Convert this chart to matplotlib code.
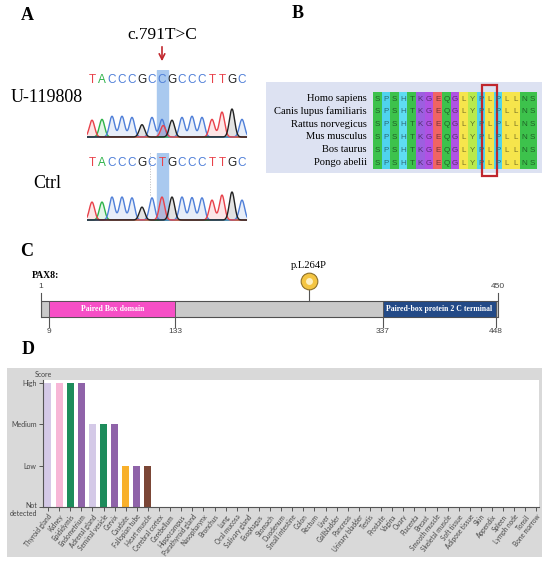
import numpy as np
import matplotlib
matplotlib.use("Agg")
import matplotlib.pyplot as plt
from matplotlib.patches import Rectangle
from matplotlib.transforms import ScaledTranslation

W, H = 550, 565

# panel A: Sanger traces (base calls + peak heights)
seq_mut = "TACCCGCCGCCCTTGC"
seq_ctrl = "TACCCGCTGCCCTTGC"
peaks_mut = [0.60, 0.63, 0.74, 0.74, 0.70, 0.44, 0.70, 0.63, 0.60, 0.70, 0.74, 0.70, 0.63, 0.89, 1.00, 0.63]
peaks_ctrl = [0.64, 0.64, 0.82, 0.82, 0.79, 0.46, 0.79, 0.82, 0.82, 0.82, 0.80, 0.79, 0.71, 0.89, 1.00, 0.71]
het_base, het_index, het_height = "T", 7, 0.41
variant_index = 7
variant_label = "c.791T>C"
sample_names = ["U-119808", "Ctrl"]

# panel B: conservation
species = ["Homo sapiens", "Canis lupus familiaris", "Rattus norvegicus",
           "Mus musculus", "Bos taurus", "Pongo abelii"]
motif = "SPSHTKGEQGLYPLPLLNS"
boxed_col = 13

# panel C: protein domains
protein = "PAX8:"
protein_len = 450
domain_names = ["Paired Box domain", "Paired-box protein 2 C terminal"]
domain_start = [9, 337]
domain_end = [133, 448]
variant_pos = 264
protein_variant = "p.L264P"

# panel D: tissue expression score
tissues = ["Thyroid gland", "Kidney", "Epididymis", "Endometrium", "Adrenal gland",
           "Seminal vesicle", "Cervix", "Caudate", "Fallopian tube", "Heart muscle",
           "Cerebral cortex", "Cerebellum", "Hippocampus", "Parathyroid gland",
           "Nasopharynx", "Bronchus", "Lung", "Oral mucosa", "Salivary gland",
           "Esophagus", "Stomach", "Duodenum", "Small intestine", "Colon", "Rectum",
           "Liver", "Gallbladder", "Pancreas", "Urinary bladder", "Testis", "Prostate",
           "Vagina", "Ovary", "Placenta", "Breast", "Smooth muscle", "Skeletal muscle",
           "Soft tissue", "Adipose tissue", "Skin", "Appendix", "Spleen", "Lymph node",
           "Tonsil", "Bone marrow"]
scores = [3, 3, 3, 3, 2, 2, 2, 1, 1, 1,
          0, 0, 0, 0, 0, 0, 0, 0, 0, 0,
          0, 0, 0, 0, 0, 0, 0, 0, 0, 0,
          0, 0, 0, 0, 0, 0, 0, 0, 0, 0,
          0, 0, 0, 0, 0]
score_labels = ["Not\ndetected", "Low", "Medium", "High"]

# styles
base_colors = {"A": "#2fb34a", "C": "#4f7fd8", "G": "#222222", "T": "#e8414a"}
aa_colors = {"S": "#3dc24c", "T": "#3dc24c", "N": "#3dc24c", "Q": "#3dc24c",
             "P": "#4fd3ee", "H": "#5fdcf2", "K": "#9d5fe0", "G": "#b052e4",
             "E": "#f06464", "L": "#f6e54c", "Y": "#b9ea4c"}
domain_colors = ["#f64fc6", "#234a87"]
group_colors = {"endocrine": "#d4c9e7", "kidney": "#f7b7d7", "male": "#1d8c5b",
                "female": "#8f63a9", "brain": "#f8b02b", "muscle": "#7b4636"}
tissue_group = {"Thyroid gland": "endocrine", "Adrenal gland": "endocrine",
                "Kidney": "kidney", "Epididymis": "male", "Seminal vesicle": "male",
                "Endometrium": "female", "Cervix": "female", "Fallopian tube": "female",
                "Caudate": "brain", "Heart muscle": "muscle"}

SERIF = "Liberation Serif"
SANS = "Liberation Sans"

fig = plt.figure(figsize=(W / 100, H / 100), dpi=100)


def px_axes(x0, y0, x1, y1, **kw):
    return fig.add_axes([x0 / W, 1 - y1 / H, (x1 - x0) / W, (y1 - y0) / H], **kw)


canvas = px_axes(0, 0, W, H)
canvas.set_xlim(0, W)
canvas.set_ylim(H, 0)
canvas.axis("off")

for lab, (x, y) in zip("ABCD", [(27, 16), (298, 14), (27, 252), (28, 350)]):
    canvas.text(x, y, lab, fontsize=13, fontweight="bold", family=SERIF,
                ha="center", va="center")

# ---------------- A ----------------
PX = 28.0  # pixels per unit peak height


def draw_trace(ax, seq, heights, extra=None):
    x = np.linspace(-0.5, len(seq) - 0.5, 1200)
    sig = 0.26
    for b in "ACTG":
        y = np.zeros_like(x)
        for i, (ch, h) in enumerate(zip(seq, heights)):
            if ch == b:
                y += h * np.exp(-(x - i) ** 2 / (2 * sig ** 2))
        if extra and extra[0] == b:
            y += extra[2] * np.exp(-(x - extra[1] - 0.12) ** 2 / (2 * sig ** 2))
        ax.fill_between(x, 0, y, color=base_colors[b], alpha=0.13, lw=0, zorder=2)
        ax.plot(x, y, color=base_colors[b], lw=1.0, zorder=3)
    for i, ch in enumerate(seq):
        ax.text(i, 57 / PX, ch, color=base_colors[ch], fontsize=8.5, family=SANS,
                ha="center", va="center")
    ax.axvspan(variant_index - 0.55, variant_index + 0.55, color="#a9c9ef", zorder=0)
    ax.set_xlim(-0.5, len(seq) - 0.5)
    ax.set_ylim(-1 / PX, 67 / PX)
    ax.axis("off")


ax_mut = px_axes(87, 70, 247, 138)
draw_trace(ax_mut, seq_mut, peaks_mut, (het_base, het_index, het_height))
ax_mut.annotate("", xy=(variant_index, (137 - 64) / PX), xytext=(variant_index, (137 - 44) / PX),
                arrowprops=dict(arrowstyle="->", color="#c1272d", lw=1.2),
                annotation_clip=False)
ax_mut.text(variant_index + 0.05, (137 - 35) / PX, variant_label, fontsize=12.5,
            family=SERIF, ha="center", va="center")

ax_ctrl = px_axes(87, 153, 247, 221)
draw_trace(ax_ctrl, seq_ctrl, peaks_ctrl)
ax_ctrl.plot([5.75, 5.75], [25 / PX, 68 / PX], color="#bbbbbb", lw=0.7, ls=":", zorder=1)

canvas.text(47, 97, sample_names[0], fontsize=13, family=SERIF, ha="center", va="center")
canvas.text(47, 183, sample_names[1], fontsize=13, family=SERIF, ha="center", va="center")

# ---------------- B ----------------
canvas.add_patch(Rectangle((266, 82), 276, 91, color="#dde2f2", lw=0))
ax_b = px_axes(373, 92, 537, 169)
rgb = np.array([[matplotlib.colors.to_rgb(aa_colors[a]) for a in motif] for _ in species])
ax_b.imshow(rgb, aspect="auto", interpolation="nearest",
            extent=(-0.5, len(motif) - 0.5, len(species) - 0.5, -0.5))
for r, name in enumerate(species):
    ax_b.text(-1.2, r, name, fontsize=7.6, family=SERIF, ha="right", va="center")
    for c, a in enumerate(motif):
        dark = tuple(v * 0.5 for v in matplotlib.colors.to_rgb(aa_colors[a]))
        ax_b.text(c, r + 0.05, a, fontsize=5.8, family=SANS, color=dark,
                  ha="center", va="center")
ax_b.add_patch(Rectangle((boxed_col - 0.85, -1.05), 1.7, len(species) + 1.1, fill=False,
                         ec="#c0262d", lw=1.6, clip_on=False))
ax_b.set_xlim(-0.5, len(motif) - 0.5)
ax_b.set_ylim(len(species) - 0.5, -0.5)
ax_b.axis("off")

# ---------------- C ----------------
U = 16.0  # pixels per unit bar height
ax_c = px_axes(41, 250, 498, 340)
ax_c.set_xlim(1, protein_len)
ax_c.set_ylim(-(340 - 317) / U, (317 - 250) / U)
ax_c.axis("off")
ax_c.add_patch(Rectangle((1, 0), protein_len - 1, 1, fc="#c9c9c9", ec="#505050", lw=0.8))
for name, s, e, col in zip(domain_names, domain_start, domain_end, domain_colors):
    ax_c.add_patch(Rectangle((s, 0), e - s, 1, fc=col, ec="#505050", lw=0.6))
    ax_c.text((s + e) / 2, 0.5, name, color="white", fontsize=5.6, fontweight="bold",
              family=SERIF, ha="center", va="center")
for p in [1, protein_len]:
    ax_c.plot([p, p], [0, 1.5], color="#555555", lw=0.8, clip_on=False)
    ax_c.text(p, 1.9, str(p), fontsize=6, color="#444444", family=SANS,
              ha="center", va="center")
for p in domain_start + domain_end:
    ax_c.plot([p, p], [0, -0.62], color="#555555", lw=0.8, clip_on=False)
    ax_c.text(p, -0.88, str(p), fontsize=6, color="#444444", family=SANS,
              ha="center", va="center")
ax_c.plot([variant_pos, variant_pos], [1, 1.75], color="#555555", lw=0.8)
ax_c.plot(variant_pos, 2.25, "o", ms=12, mfc="#f4c542", mec="#8d7028", mew=0.8, clip_on=False)
ax_c.plot(variant_pos, 2.25, "o", ms=5, mfc="#fdf0c2", mec="none", clip_on=False)
ax_c.text(variant_pos, 3.25, protein_variant, fontsize=7.6, family=SERIF,
          ha="center", va="center")
canvas.text(32, 275, protein, fontsize=7, fontweight="bold", family=SERIF,
            ha="left", va="center")

# ---------------- D ----------------
canvas.add_patch(Rectangle((7, 368), 535, 189, color="#d9d9d9", lw=0))
ax_d = px_axes(43, 380, 539, 507)
ax_d.set_facecolor("white")
xs = np.arange(len(tissues))
bar_colors = [group_colors.get(tissue_group.get(t, ""), "#cccccc") for t in tissues]
ax_d.bar(xs, scores, width=0.63, color=bar_colors)
ax_d.set_xlim(-0.45, len(tissues) - 0.77)
ax_d.set_ylim(0, 3.07)
ax_d.set_yticks(range(4))
ax_d.set_yticklabels(score_labels, fontsize=5, family="Lato", color="#444444")
ax_d.set_xticks(xs)
ax_d.set_xticklabels(tissues, fontsize=4.7, family="Lato", color="#444444",
                     rotation=52, ha="right", rotation_mode="anchor")
ax_d.tick_params(axis="both", length=3, width=0.7, color="#555555", pad=1.5)
nd = ax_d.get_yticklabels()[0]
nd.set_va("top")
nd.set_transform(nd.get_transform() + ScaledTranslation(0, 3.5 / 72, fig.dpi_scale_trans))
for side in ["top", "right"]:
    ax_d.spines[side].set_visible(False)
for side in ["left", "bottom"]:
    ax_d.spines[side].set_color("#555555")
    ax_d.spines[side].set_linewidth(0.8)
ax_d.text(0, 1.04, "Score", transform=ax_d.transAxes, fontsize=5, family="Lato",
          color="#444444", ha="center", va="center")

fig.savefig("out.png", dpi=100)
